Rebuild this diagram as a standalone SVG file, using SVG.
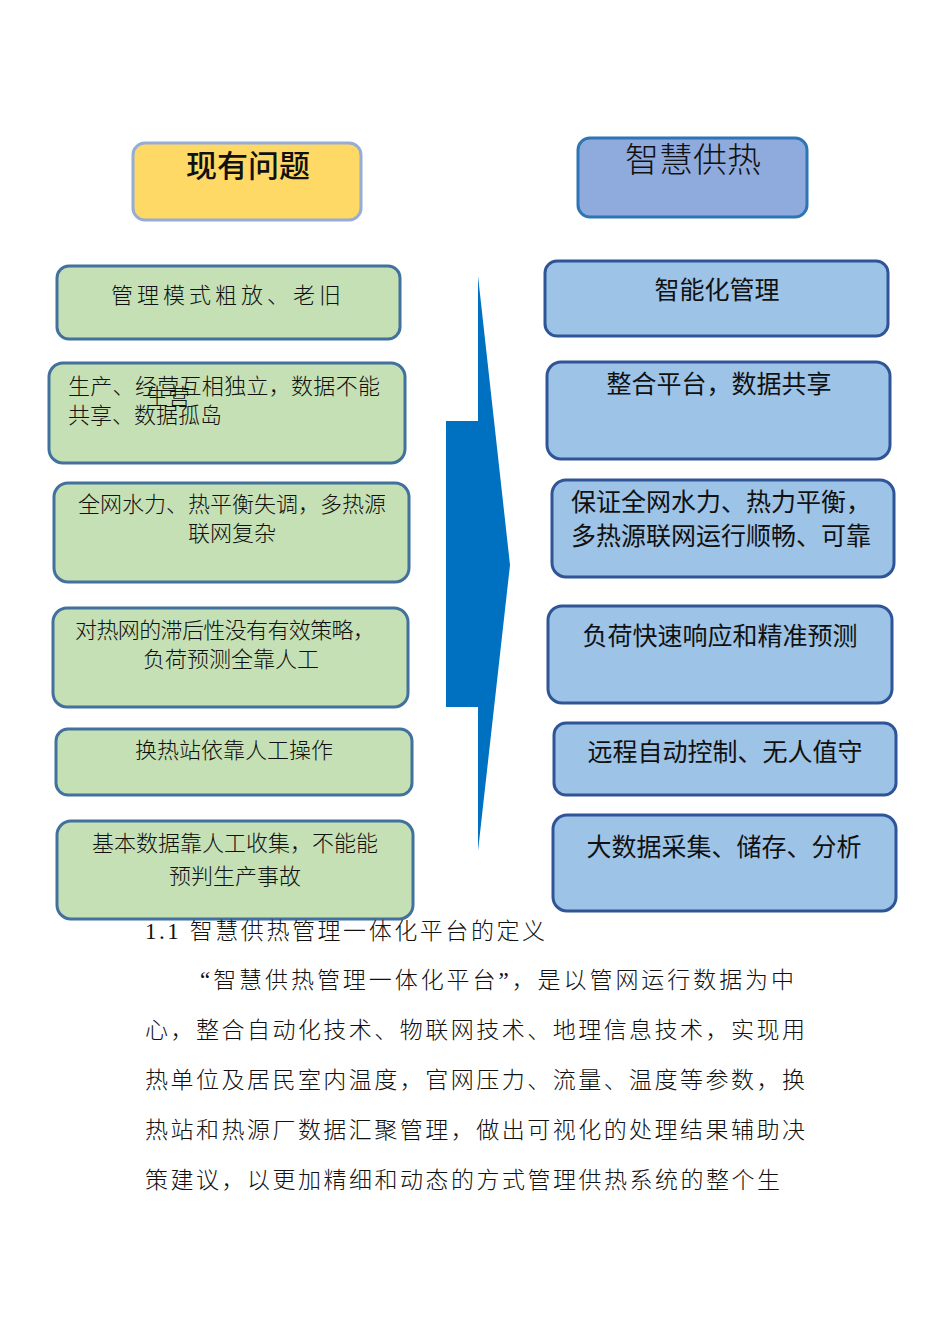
<svg xmlns="http://www.w3.org/2000/svg" width="950" height="1344" viewBox="0 0 950 1344">
<style>
.g{fill:#C5E0B4;stroke:#41719C;stroke-width:3}
.b{fill:#9DC3E6;stroke:#2F5597;stroke-width:3}
.ts{font-family:"Liberation Serif","Noto Sans CJK SC",serif;font-size:22px;fill:#111;font-weight:300}
.tb{font-family:"Liberation Sans","Noto Sans CJK SC",sans-serif;font-size:25px;fill:#111;font-weight:400}
.body{font-family:"Liberation Serif","Noto Sans CJK SC",serif;font-size:23px;fill:#111;font-weight:300}
</style>
<rect width="950" height="1344" fill="#fff"/>
<g id="connectors">
<polygon points="478,276 510,565 478,851 478,707 446,707 446,421 478,421" fill="#0070C0"/>
</g>
<g id="head-left">
<rect x="133" y="143" width="228" height="77" rx="12" fill="#FFD966" stroke="#95ACD4" stroke-width="3"/>
<text x="248" y="177" text-anchor="middle" font-family="Liberation Sans,'Noto Sans CJK SC',sans-serif" font-size="31" font-weight="500" fill="#111">现有问题</text>
</g>
<g id="head-right">
<rect x="578" y="138" width="229" height="79" rx="12" fill="#8FAADC" stroke="#2E75B6" stroke-width="3"/>
<text x="693" y="172" text-anchor="middle" font-family="Liberation Sans,'Noto Sans CJK SC',sans-serif" font-size="34" font-weight="300" fill="#111">智慧供热</text>
</g>
<g id="L1">
<rect class="g" x="57" y="266" width="343" height="73" rx="12"/>
<text class="ts" x="228" y="303" text-anchor="middle" letter-spacing="4">管理模式粗放、老旧</text>
</g>
<g id="L2">
<rect class="g" x="49" y="363" width="356" height="100" rx="14"/>
<text class="ts" x="68" y="394" textLength="312">生产、经营互相独立，数据不能</text>
<text class="ts" x="68" y="423">共享、数据孤岛</text>
<text class="ts" x="146" y="404" font-size="9">生营</text>
</g>
<g id="L3">
<rect class="g" x="54" y="483" width="355" height="99" rx="14"/>
<text class="ts" x="232" y="512" text-anchor="middle">全网水力、热平衡失调，多热源</text>
<text class="ts" x="232" y="541" text-anchor="middle">联网复杂</text>
</g>
<g id="L4">
<rect class="g" x="53" y="608" width="355" height="99" rx="14"/>
<text class="ts" x="75" y="638" textLength="300">对热网的滞后性没有有效策略，</text>
<text class="ts" x="231" y="667" text-anchor="middle">负荷预测全靠人工</text>
</g>
<g id="L5">
<rect class="g" x="56" y="729" width="356" height="66" rx="12"/>
<text class="ts" x="234" y="758" text-anchor="middle" font-size="25">换热站依靠人工操作</text>
</g>
<g id="L6">
<rect class="g" x="57" y="821" width="356" height="98" rx="14"/>
<text class="ts" x="235" y="851" text-anchor="middle" font-size="25">基本数据靠人工收集，不能能</text>
<text class="ts" x="235" y="884" text-anchor="middle" font-size="25">预判生产事故</text>
</g>
<g id="R1">
<rect class="b" x="545" y="261" width="343" height="75" rx="12"/>
<text class="tb" x="717" y="299" text-anchor="middle">智能化管理</text>
</g>
<g id="R2">
<rect class="b" x="547" y="362" width="343" height="97" rx="14"/>
<text class="tb" x="719" y="393" text-anchor="middle">整合平台，数据共享</text>
</g>
<g id="R3">
<rect class="b" x="552" y="480" width="342" height="97" rx="14"/>
<text class="tb" x="571" y="511">保证全网水力、热力平衡，</text>
<text class="tb" x="571" y="545">多热源联网运行顺畅、可靠</text>
</g>
<g id="R4">
<rect class="b" x="548" y="606" width="344" height="97" rx="14"/>
<text class="tb" x="720" y="645" text-anchor="middle">负荷快速响应和精准预测</text>
</g>
<g id="R5">
<rect class="b" x="554" y="723" width="342" height="72" rx="12"/>
<text class="tb" x="725" y="761" text-anchor="middle">远程自动控制、无人值守</text>
</g>
<g id="R6">
<rect class="b" x="553" y="815" width="343" height="96" rx="14"/>
<text class="tb" x="724" y="856" text-anchor="middle">大数据采集、储存、分析</text>
</g>
<g id="body">
<text class="body" x="145" y="939" textLength="400">1.1 智慧供热管理一体化平台的定义</text>
<text class="body" x="200" y="988" textLength="594">“智慧供热管理一体化平台”，是以管网运行数据为中</text>
<text class="body" x="145" y="1038" textLength="660">心，整合自动化技术、物联网技术、地理信息技术，实现用</text>
<text class="body" x="145" y="1088" textLength="660">热单位及居民室内温度，官网压力、流量、温度等参数，换</text>
<text class="body" x="145" y="1138" textLength="660">热站和热源厂数据汇聚管理，做出可视化的处理结果辅助决</text>
<text class="body" x="145" y="1188" textLength="635">策建议，以更加精细和动态的方式管理供热系统的整个生</text>
</g>
</svg>
